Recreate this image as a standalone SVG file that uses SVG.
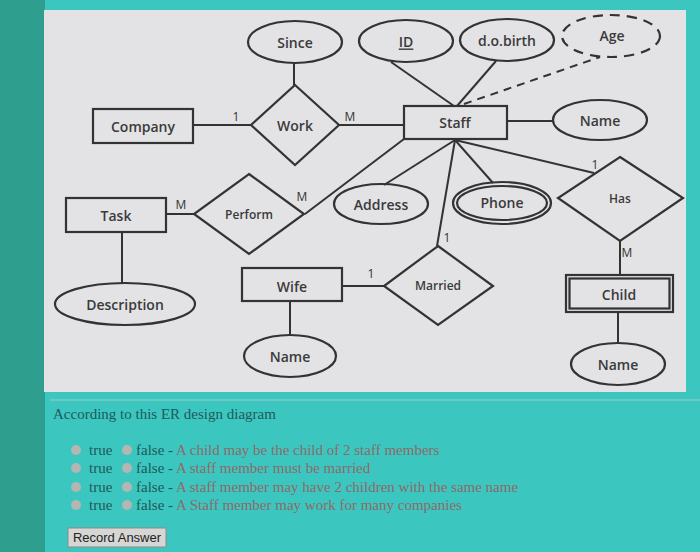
<svg xmlns="http://www.w3.org/2000/svg" width="700" height="552" viewBox="0 0 700 552">
<defs>
<style>
.sh{fill:none;stroke:#333;stroke-width:2.2}
.ln{fill:none;stroke:#333;stroke-width:2}
.t{font-family:"Open Sans","Liberation Sans",sans-serif;font-weight:600;font-size:14px;fill:#3a3a3a;text-anchor:middle;dominant-baseline:central}
.ts{font-size:12px}
.card{font-family:"Open Sans","Liberation Sans",sans-serif;font-size:12px;fill:#333;text-anchor:middle}
.q{font-family:"Liberation Serif",serif;font-size:15px;fill:#1e5a58}
.r{fill:#8e6a68}
.rad{fill:#b4b6b2}
</style>
</defs>
<rect x="0" y="0" width="700" height="552" fill="#3cc6c0"/>
<rect x="0" y="0" width="45" height="552" fill="#2e9e8e"/>
<rect x="44" y="10" width="642" height="382" fill="#e3e3e5"/>
<line x1="50" y1="400" x2="700" y2="400" stroke="#a6c8c4" stroke-width="1.2"/>

<g id="connectors">
<line class="ln" x1="294" y1="63" x2="294" y2="85"/>
<line class="ln" x1="193" y1="125" x2="251" y2="125" stroke-width="3"/>
<line class="ln" x1="339" y1="125" x2="404" y2="125"/>
<line class="ln" x1="391" y1="62" x2="454" y2="106"/>
<line class="ln" x1="496" y1="61" x2="457" y2="106"/>
<line class="ln" x1="464" y1="104" x2="600" y2="57" stroke-dasharray="8 6" stroke-width="2.5"/>
<line class="ln" x1="507" y1="121" x2="554" y2="121"/>
<line class="ln" x1="404" y1="139" x2="305" y2="214"/>
<line class="ln" x1="455" y1="140" x2="384" y2="185"/>
<line class="ln" x1="455" y1="140" x2="437" y2="246"/>
<line class="ln" x1="455" y1="140" x2="493" y2="183"/>
<line class="ln" x1="455" y1="140" x2="594" y2="173"/>
<line class="ln" x1="166" y1="214" x2="194" y2="214"/>
<line class="ln" x1="122" y1="232" x2="122" y2="284"/>
<line class="ln" x1="620" y1="241" x2="620" y2="275"/>
<line class="ln" x1="618" y1="312" x2="618" y2="343"/>
<line class="ln" x1="342" y1="286" x2="384" y2="286"/>
<line class="ln" x1="290" y1="301" x2="290" y2="335"/>
<text class="card" x="236" y="121">1</text>
<text class="card" x="350" y="121">M</text>
<text class="card" x="595" y="169">1</text>
<text class="card" x="181" y="209">M</text>
<text class="card" x="302" y="201">M</text>
<text class="card" x="447" y="242">1</text>
<text class="card" x="627" y="257">M</text>
<text class="card" x="371" y="278">1</text>
</g>

<g id="since"><ellipse class="sh" cx="295" cy="42" rx="47" ry="21"/><text class="t" x="295" y="42">Since</text></g>
<g id="id"><ellipse class="sh" cx="406" cy="41" rx="47" ry="21"/><text class="t" x="406" y="41" text-decoration="underline">ID</text></g>
<g id="dob"><ellipse class="sh" cx="507" cy="40" rx="47" ry="21"/><text class="t" x="507" y="40">d.o.birth</text></g>
<g id="age"><ellipse class="sh" cx="611" cy="36" rx="49" ry="21" stroke-dasharray="10 7" stroke-width="2.5"/><text class="t" x="612" y="35">Age</text></g>
<g id="company"><rect class="sh" x="93" y="109" width="100" height="34"/><text class="t" x="143" y="126">Company</text></g>
<g id="work"><polygon class="sh" points="295,85 339,125 295,165 251,125"/><text class="t" x="295" y="125">Work</text></g>
<g id="staff"><rect class="sh" x="404" y="106" width="103" height="33"/><text class="t" x="455" y="122">Staff</text></g>
<g id="staff-name"><ellipse class="sh" cx="600" cy="120" rx="47" ry="20"/><text class="t" x="600" y="120">Name</text></g>
<g id="task"><rect class="sh" x="66" y="198" width="100" height="34"/><text class="t" x="116" y="215">Task</text></g>
<g id="perform"><polygon class="sh" points="249,174 304,214 249,254 194,214"/><text class="t ts" x="249" y="214">Perform</text></g>
<g id="address"><ellipse class="sh" cx="381" cy="204" rx="47" ry="20"/><text class="t" x="381" y="204">Address</text></g>
<g id="phone"><ellipse class="sh" cx="502" cy="203" rx="49" ry="21"/><ellipse class="sh" cx="502" cy="203" rx="45" ry="17" stroke-width="1.8"/><text class="t" x="502" y="202">Phone</text></g>
<g id="has"><polygon class="sh" points="620,157 683,198 620,241 558,198"/><text class="t ts" x="620" y="198">Has</text></g>
<g id="description"><ellipse class="sh" cx="125" cy="304" rx="70" ry="21"/><text class="t" x="125" y="304">Description</text></g>
<g id="wife"><rect class="sh" x="242" y="268" width="100" height="33"/><text class="t" x="292" y="286">Wife</text></g>
<g id="married"><polygon class="sh" points="438,246 493,286 438,325 384,286"/><text class="t ts" x="438" y="285">Married</text></g>
<g id="child"><rect class="sh" x="566" y="275" width="107" height="37"/><rect class="sh" x="569.5" y="278.5" width="100" height="30" stroke-width="1.6"/><text class="t" x="619" y="294">Child</text></g>
<g id="wife-name"><ellipse class="sh" cx="290" cy="356" rx="46" ry="21"/><text class="t" x="290" y="356">Name</text></g>
<g id="child-name"><ellipse class="sh" cx="618" cy="364" rx="47" ry="21"/><text class="t" x="618" y="364">Name</text></g>

<g id="question">
<text class="q" x="53" y="419">According to this ER design diagram</text>
<circle class="rad" cx="76" cy="450" r="5"/><text class="q" x="89" y="455">true</text><circle class="rad" cx="127" cy="450" r="5"/><text class="q" x="136" y="455">false - <tspan class="r">A child may be the child of 2 staff members</tspan></text>
<circle class="rad" cx="76" cy="468" r="5"/><text class="q" x="89" y="473">true</text><circle class="rad" cx="127" cy="468" r="5"/><text class="q" x="136" y="473">false - <tspan class="r">A staff member must be married</tspan></text>
<circle class="rad" cx="76" cy="487" r="5"/><text class="q" x="89" y="492">true</text><circle class="rad" cx="127" cy="487" r="5"/><text class="q" x="136" y="492">false - <tspan class="r">A staff member may have 2 children with the same name</tspan></text>
<circle class="rad" cx="76" cy="505" r="5"/><text class="q" x="89" y="510">true</text><circle class="rad" cx="127" cy="505" r="5"/><text class="q" x="136" y="510">false - <tspan class="r">A Staff member may work for many companies</tspan></text>
</g>
<g id="record-answer">
<rect x="68" y="528" width="98" height="19" fill="#d6d6d4" stroke="#8a8a8a" stroke-width="1"/>
<text x="117" y="542" font-family="Liberation Sans, sans-serif" font-size="13" fill="#222" text-anchor="middle">Record Answer</text>
</g>
</svg>
